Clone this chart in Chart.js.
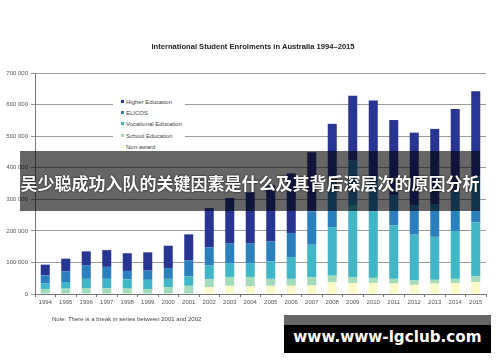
<!DOCTYPE html>
<html>
<head>
<meta charset="utf-8">
<script src="https://cdn.jsdelivr.net/npm/chart.js@4"></script>
<style>
  html, body { margin: 0; padding: 0; background: #fff; }
  #wrap { position: relative; width: 500px; height: 362px; overflow: hidden; font-family: "Liberation Sans", Arial, sans-serif; }
  #chart { position: absolute; left: 0; top: 0; }
  .title { position: absolute; left: 0; width: 506px; top: 42px; text-align: center; font-size: 7.6px; font-weight: bold; color: #222; white-space: nowrap; }
  .note { position: absolute; left: 52px; top: 316px; font-size: 6px; color: #444; white-space: nowrap; }
  .legend { position: absolute; left: 113px; top: 96px; width: 72px; height: 56px; background: #fff; }
  .legend div { position: absolute; left: 8px; font-size: 6px; color: #444; white-space: nowrap; }
  .legend span { display: inline-block; width: 3px; height: 3px; margin-right: 2px; vertical-align: 1px; }
  .band { position: absolute; left: 20px; top: 151px; width: 460px; height: 60px; background: rgba(0,0,0,0.6); }
  .band p { margin: 0; position: absolute; left: 0; right: 0; top: 20px; text-align: center; color: #fff; font: bold 17px "Noto Sans CJK SC", sans-serif; line-height: 24px; text-shadow: 0 0 2px #000; white-space: nowrap; }
  .wm-grey { position: absolute; left: 284px; top: 315px; width: 207px; height: 10px; background: rgba(0,0,0,0.6); }
  .wm { position: absolute; left: 284px; top: 325px; width: 207px; height: 28px; background: #000; color: #fff; text-align: center; font: bold 15.2px "DejaVu Sans", sans-serif; line-height: 25px; white-space: nowrap; }
</style>
</head>
<body>
<div id="wrap">
  <canvas id="chart" width="500" height="362"></canvas>
  <div class="title">International Student Enrolments  in Australia 1994–2015</div>
  <div class="legend" id="legend"></div>
  <div class="note">Note: There is a break in series between 2001 and 2002</div>
  <div class="band"><p>吴少聪成功入队的关键因素是什么及其背后深层次的原因分析</p></div>
  <div class="wm-grey"></div>
  <div class="wm">www.www-lgclub.com</div>
</div>
<script>
// enrolments, thousands
const years = ['1994','1995','1996','1997','1998','1999','2000','2001','2002','2003','2004',
  '2005','2006','2007','2008','2009','2010','2011','2012','2013','2014','2015'];
const higherEd   = [34, 40, 45, 53, 56, 58, 71, 83, 124, 143, 161, 177, 189, 187, 182, 206, 240, 238, 231, 238, 262, 270];
const elicos     = [26, 34, 42, 38, 27, 29, 34, 50, 58, 63, 63, 64, 76, 106, 145, 140, 112, 96, 92, 104, 124, 145];
const vocational = [17, 21, 29, 30, 29, 29, 26, 30, 43, 44, 44, 55, 69, 103, 154, 228, 210, 169, 145, 136, 152, 171];
const school     = [16, 17, 19, 18, 17, 16, 22, 26, 25, 28, 30, 22, 22, 26, 21, 19, 16, 15, 14, 12, 13, 18];
const nonAward   = [0, 0, 0, 0, 0, 0, 0, 0, 22, 26, 24, 26, 26, 27, 37, 35, 35, 33, 29, 33, 35, 38];

const yTicks = [0, 100000, 200000, 300000, 400000, 500000, 600000, 700000];

const series = [
  { label: 'Higher Education', data: higherEd, color: '#283593' },
  { label: 'ELICOS', data: elicos, color: '#2c7fbd' },
  { label: 'Vocational Education', data: vocational, color: '#41b6c6' },
  { label: 'School Education', data: school, color: '#a3dbbb' },
  { label: 'Non-award', data: nonAward, color: '#fafac8' },
];

// legend (top to bottom as in the picture)
const leg = document.getElementById('legend');
series.forEach((s, i) => {
  const d = document.createElement('div');
  d.style.top = (3 + i * 11.2) + 'px';
  d.innerHTML = `<span style="background:${s.color}"></span>${s.label}`;
  leg.appendChild(d);
});

const fmt = (v) => (v === 0 ? '0' : (v / 1000) + ' 000');

// bottom-up stacking order
const datasets = series.slice().reverse().map((s) => ({
  label: s.label,
  data: s.data.map((v) => v * 1000),
  backgroundColor: s.color,
  borderWidth: 0,
  barPercentage: 0.88,
  categoryPercentage: 0.5,
}));

new Chart(document.getElementById('chart'), {
  type: 'bar',
  data: { labels: years, datasets },
  options: {
    responsive: false,
    animation: false,
    layout: { padding: { left: 0, top: 73, right: 14, bottom: 0 } },
    plugins: { legend: { display: false }, tooltip: { enabled: false } },
    scales: {
      x: {
        stacked: true,
        grid: { display: true, drawOnChartArea: false, color: '#777', tickLength: 3 },
        border: { color: '#777' },
        ticks: { color: '#555', font: { family: 'Liberation Sans', size: 6 }, padding: 2, maxRotation: 0, autoSkip: false },
        afterFit: (s) => { s.height = 68; },
      },
      y: {
        stacked: true,
        min: 0,
        max: 700000,
        afterBuildTicks: (s) => { s.ticks = yTicks.map((v) => ({ value: v })); },
        grid: { color: '#999', lineWidth: 1, tickLength: 4 },
        border: { color: '#777' },
        ticks: { color: '#555', font: { family: 'Liberation Sans', size: 6 }, padding: 3, callback: fmt },
        afterFit: (s) => { s.width = 35; },
      },
    },
  },
});
</script>
</body>
</html>
